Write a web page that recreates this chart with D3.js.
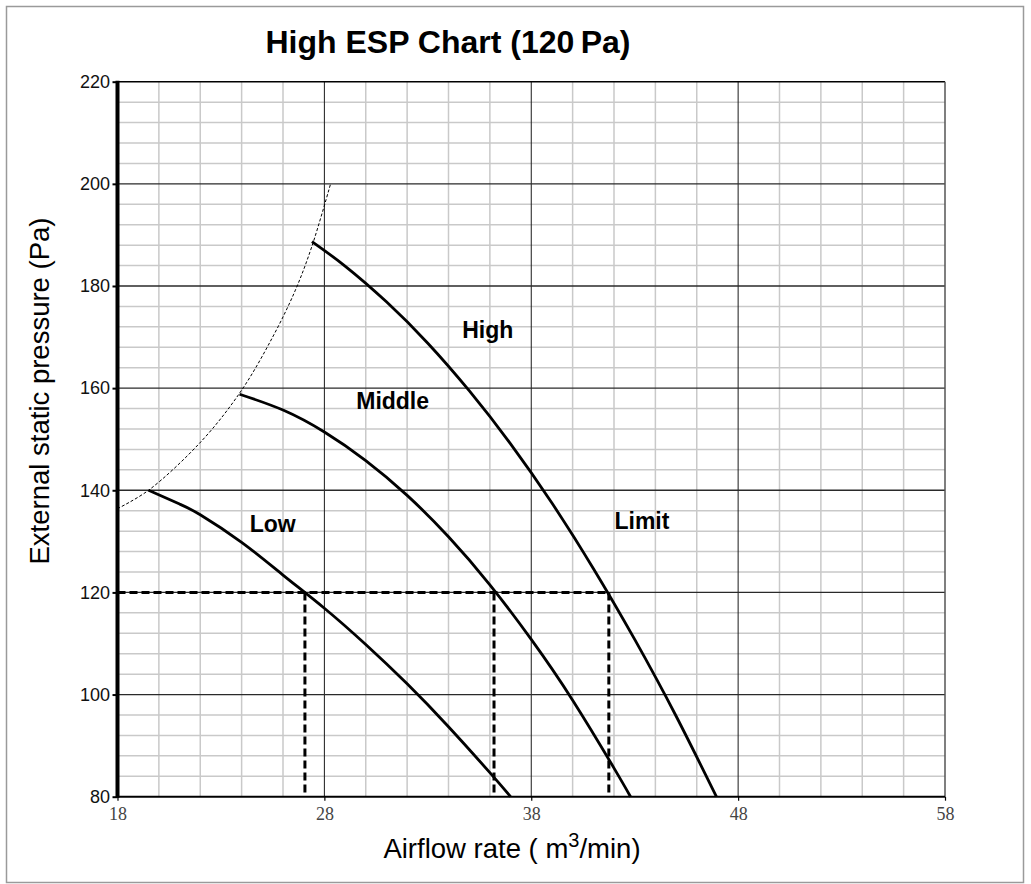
<!DOCTYPE html>
<html>
<head>
<meta charset="utf-8">
<script src="https://cdn.jsdelivr.net/npm/d3@7"></script>
<style>
  body { margin: 0; background: #fff; }
  text { font-family: "Liberation Sans", Arial, sans-serif; }
</style>
</head>
<body>
<div id="main"></div>
<script>

// axis ticks
var xTicks = [18, 28, 38, 48, 58];
var yTicks = [80, 100, 120, 140, 160, 180, 200, 220];

// fan curves (airflow m3/min -> ESP Pa)
var lowX = [19.5, 21, 22, 24, 26, 28, 30, 32, 34, 36, 37];
var lowY = [140, 137.3, 135.2, 129.8, 123.4, 116.9, 109.8, 102.1, 93.7, 84.7, 80];

var middleX = [23.9, 26, 28, 30, 32, 34, 36, 38, 40, 42, 42.8];
var middleY = [158.8, 155.7, 151.4, 145.8, 139.0, 130.9, 121.5, 110.8, 98.9, 85.6, 80];

var highX = [27.4, 29, 31, 33, 35, 37, 39, 41, 43, 45, 46.95];
var highY = [188.7, 183.9, 176.9, 168.8, 159.5, 149.1, 137.5, 124.7, 110.8, 95.8, 80];

// thin dashed envelope on the left
var envX = [18, 19.5, 22.1, 24, 25.5, 26.6, 27.4, 28.3];
var envY = [136.4, 140, 149.8, 159.6, 170, 179.2, 187.8, 200];

// 120 Pa reference lines
var refY = 120;
var refX = [27.06, 36.2, 41.75];

// curve labels
var labelNames = ["High", "Middle", "Low", "Limit"];
var labelX = [35.9, 31.3, 25.5, 43.35];
var labelY = [169.8, 156.0, 131.9, 132.4];


var margin = { top: 81.7, right: 86, bottom: 87.3, left: 117.5 },
  width = 1031 - margin.left - margin.right,
  height = 884 - margin.top - margin.bottom;

var root = d3.select('#main')
  .append("svg")
  .attr('width', 1031)
  .attr('height', 884);

// outer frame
root.append("rect")
  .attr("x", 6.5).attr("y", 6.5)
  .attr("width", 1017).attr("height", 876)
  .attr("fill", "none")
  .attr("stroke", "#9a9a9a")
  .attr("stroke-width", 1.5);

var svg = root.append("g")
  .attr("transform", "translate(" + margin.left + "," + margin.top + ")");

var x = d3.scaleLinear().domain([18, 58]).range([0, width]);
var y = d3.scaleLinear().domain([80, 220]).range([height, 0]);

// minor grid
svg.append("g").selectAll("line")
  .data(d3.range(20, 58, 2).filter(d => xTicks.indexOf(d) < 0))
  .enter().append("line")
  .attr("x1", d => x(d)).attr("x2", d => x(d))
  .attr("y1", 0).attr("y2", height)
  .attr("stroke", "#c9c9c9").attr("stroke-width", 1.5);

svg.append("g").selectAll("line")
  .data(d3.range(84, 220, 4).filter(d => yTicks.indexOf(d) < 0))
  .enter().append("line")
  .attr("x1", 0).attr("x2", width)
  .attr("y1", d => y(d)).attr("y2", d => y(d))
  .attr("stroke", "#c9c9c9").attr("stroke-width", 1.5);

// major grid
svg.append("g").selectAll("line")
  .data([28, 38, 48])
  .enter().append("line")
  .attr("x1", d => x(d)).attr("x2", d => x(d))
  .attr("y1", 0).attr("y2", height)
  .attr("stroke", "#1a1a1a").attr("stroke-width", 1);

svg.append("g").selectAll("line")
  .data([100, 120, 140, 160, 180, 200])
  .enter().append("line")
  .attr("x1", 0).attr("x2", width)
  .attr("y1", d => y(d)).attr("y2", d => y(d))
  .attr("stroke", "#2a2a2a").attr("stroke-width", 1.3);

// frame lines of the plot
svg.append("line")
  .attr("x1", 0).attr("x2", width).attr("y1", y(220)).attr("y2", y(220))
  .attr("stroke", "#000").attr("stroke-width", 1.5);
svg.append("line")
  .attr("x1", x(58)).attr("x2", x(58)).attr("y1", 0).attr("y2", height)
  .attr("stroke", "#555").attr("stroke-width", 1.5);

var line = d3.line()
  .x(d => x(d[0]))
  .y(d => y(d[1]))
  .curve(d3.curveNatural);

// envelope
svg.append("path")
  .datum(d3.zip(envX, envY))
  .attr("d", line.curve(d3.curveCatmullRom.alpha(0.5)))
  .attr("fill", "none")
  .attr("stroke", "#000")
  .attr("stroke-width", 1)
  .attr("stroke-dasharray", "3,2");

line.curve(d3.curveNatural);

// fan curves
var curves = [d3.zip(lowX, lowY), d3.zip(middleX, middleY), d3.zip(highX, highY)];
svg.append("g").selectAll("path")
  .data(curves)
  .enter().append("path")
  .attr("d", line)
  .attr("fill", "none")
  .attr("stroke", "#000")
  .attr("stroke-width", 2.8);

// 120 Pa reference
svg.append("line")
  .attr("x1", x(18)).attr("x2", x(d3.max(refX)))
  .attr("y1", y(refY)).attr("y2", y(refY))
  .attr("stroke", "#000").attr("stroke-width", 3)
  .attr("stroke-dasharray", "8,4");

svg.append("g").selectAll("line")
  .data(refX)
  .enter().append("line")
  .attr("x1", d => x(d)).attr("x2", d => x(d))
  .attr("y1", y(refY)).attr("y2", y(80))
  .attr("stroke", "#000").attr("stroke-width", 3)
  .attr("stroke-dasharray", "8,4");

// axes
var yAxis = svg.append("g")
  .call(d3.axisLeft(y).tickValues(yTicks).tickSize(5).tickPadding(2.5));
yAxis.select(".domain").remove();
yAxis.selectAll("line").attr("stroke", "#000").attr("stroke-width", 2);
yAxis.selectAll("text")
  .style("font-family", "'Liberation Sans', Arial, sans-serif")
  .style("font-size", "18px")
  .attr("fill", "#111");

var xAxis = svg.append("g")
  .attr("transform", "translate(0," + height + ")")
  .call(d3.axisBottom(x).tickValues(xTicks).tickSize(4).tickPadding(7));
xAxis.select(".domain").remove();
xAxis.selectAll("line").attr("stroke", "#000").attr("stroke-width", 1.2);
xAxis.selectAll("text")
  .style("font-family", "'Liberation Serif', 'DejaVu Serif', serif")
  .style("font-size", "18px")
  .attr("fill", "#444");

svg.append("line")
  .attr("x1", 0).attr("x2", width).attr("y1", height).attr("y2", height)
  .attr("stroke", "#000").attr("stroke-width", 2);

svg.append("line")
  .attr("x1", 0).attr("x2", 0).attr("y1", -1).attr("y2", height + 1)
  .attr("stroke", "#000").attr("stroke-width", 4);

// curve labels
svg.append("g").selectAll("text")
  .data(labelNames)
  .enter().append("text")
  .attr("x", (d, i) => x(labelX[i]))
  .attr("y", (d, i) => y(labelY[i]))
  .style("text-anchor", "middle")
  .style("font-weight", 700)
  .style("font-size", "23px")
  .text(d => d);

// titles
root.append("text")
  .attr("x", 448)
  .attr("y", 53)
  .style("text-anchor", "middle")
  .style("font-weight", 700)
  .style("font-size", "32px")
  .text("High ESP Chart (120\u2009Pa)");

root.append("text")
  .attr("transform", "rotate(-90)")
  .attr("x", -391)
  .attr("y", 49)
  .style("text-anchor", "middle")
  .style("font-size", "27.5px")
  .text("External static pressure (Pa)");

var xt = root.append("text")
  .attr("x", 512)
  .attr("y", 858)
  .style("text-anchor", "middle")
  .style("font-size", "27.5px");
xt.append("tspan").text("Airflow rate ( m");
xt.append("tspan").attr("dy", -11).style("font-size", "20px").text("3");
xt.append("tspan").attr("dy", 11).text("/min)");

</script>
</body>
</html>
